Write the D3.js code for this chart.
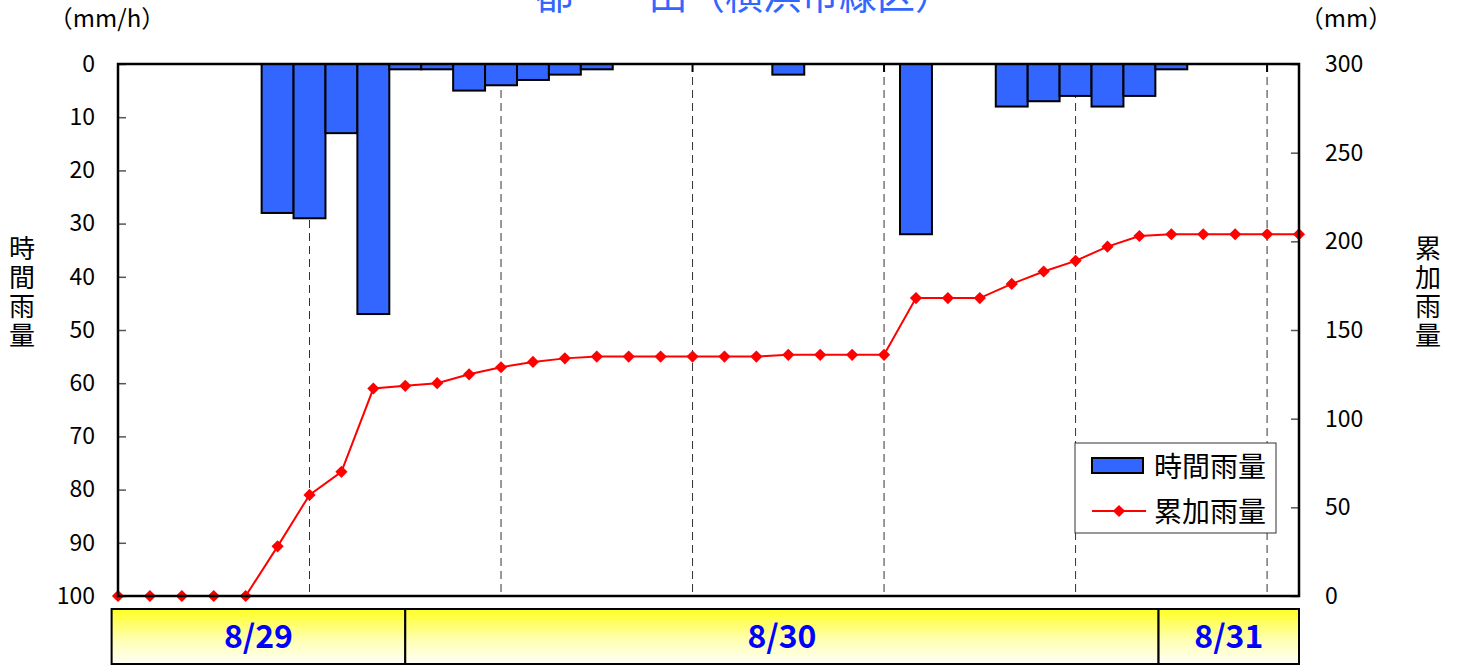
<!DOCTYPE html>
<html>
<head>
<meta charset="utf-8">
<script src="https://cdn.jsdelivr.net/npm/d3@7"></script>
<style>
  html, body { margin: 0; padding: 0; background: #fff; }
  svg { display: block; }
  text { font-family: "Noto Sans CJK JP", "Noto Sans", sans-serif; }
</style>
</head>
<body>
<svg id="chart"></svg>
<script>
'use strict';

// ── データ（1時間ごと） ─────────────────────────────────────────────
const hourly = [0, 0, 0, 0, 0, 28, 29, 13, 47, 1, 1, 5, 4, 3, 2, 1, 0, 0, 0, 0, 0, 2, 0, 0, 0, 32, 0, 0, 8, 7, 6, 8, 6, 1, 0, 0, 0, 0];
const cumulative = [0, 0, 0, 0, 0, 28, 57, 70, 117, 118.5, 120, 125, 129, 132, 134, 135, 135, 135, 135, 135, 135, 136, 136, 136, 136, 168, 168, 168, 176, 183, 189, 197, 203, 204, 204, 204, 204, 204];
const gridHours = [6, 12, 18, 24, 30, 36];
const days = ['8/29', '8/30', '8/31'];
const dayEdges = [-0.2, 9, 32.6, 37];
const leftTicks = [0, 10, 20, 30, 40, 50, 60, 70, 80, 90, 100];
const rightTicks = [0, 50, 100, 150, 200, 250, 300];

const W = 1457, H = 666;
const M = { left: 118, right: 1299, top: 64, bottom: 596 };

const BAR = '#3366ff';
const LINE = '#ff0000';

const svg = d3.select('#chart').attr('width', W).attr('height', H);

const x = d3.scaleLinear().domain([0, hourly.length - 1]).range([M.left, M.right]);
const yL = d3.scaleLinear().domain([0, 100]).range([M.top, M.bottom]);
const yR = d3.scaleLinear().domain([0, 300]).range([M.bottom, M.top]);
const step = x(1) - x(0);

// ── タイトル（上が切れている） ──────────────────────────────────────
svg.append('text')
  .attr('x', 744).attr('y', 9)
  .attr('text-anchor', 'middle')
  .attr('font-size', 38)
  .attr('fill', BAR)
  .text('都　　田（横浜市緑区）');

// ── 単位 ────────────────────────────────────────────────────────────
svg.append('text').attr('x', 107).attr('y', 27).attr('text-anchor', 'middle')
  .attr('font-size', 24).text('（mm/h）');
svg.append('text').attr('x', 1346).attr('y', 27).attr('text-anchor', 'middle')
  .attr('font-size', 24).text('（mm）');

// 縦書き軸タイトル
function vertical(label, cx) {
  svg.append('text')
    .attr('x', cx)
    .attr('y', 235)
    .attr('writing-mode', 'vertical-rl')
    .attr('font-size', 26)
    .attr('letter-spacing', 3)
    .text(label);
}
vertical('時間雨量', 22);
vertical('累加雨量', 1428);

// ── 日付の縦破線 ────────────────────────────────────────────────────
const grid = svg.append('g');
grid.selectAll('line.dash')
  .data(gridHours)
  .join('line')
  .attr('class', 'dash')
  .attr('x1', d => x(d)).attr('x2', d => x(d))
  .attr('y1', M.top).attr('y2', M.bottom)
  .attr('stroke', '#333')
  .attr('stroke-width', 1)
  .attr('stroke-dasharray', '8,5');
grid.selectAll('line.tick')
  .data(gridHours)
  .join('line')
  .attr('class', 'tick')
  .attr('x1', d => x(d)).attr('x2', d => x(d))
  .attr('y1', M.top).attr('y2', M.top + 8)
  .attr('stroke', '#000')
  .attr('stroke-width', 2);

// ── 時間雨量（棒、上から下へ） ──────────────────────────────────────
svg.append('g').selectAll('rect')
  .data(hourly.map((v, i) => ({ i, v })).filter(d => d.v > 0))
  .join('rect')
  .attr('x', d => x(d.i) - step / 2)
  .attr('y', yL(0))
  .attr('width', step)
  .attr('height', d => yL(d.v) - yL(0))
  .attr('fill', BAR)
  .attr('stroke', '#000')
  .attr('stroke-width', 2);

// ── 累加雨量（折れ線） ──────────────────────────────────────────────
const line = d3.line().x((d, i) => x(i)).y(d => yR(d));
svg.append('path')
  .datum(cumulative)
  .attr('d', line)
  .attr('fill', 'none')
  .attr('stroke', LINE)
  .attr('stroke-width', 2);

const diamond = d3.symbol().type(d3.symbolDiamond2).size(95);
svg.append('g').selectAll('path')
  .data(cumulative)
  .join('path')
  .attr('transform', (d, i) => `translate(${x(i)},${yR(d)})`)
  .attr('d', diamond)
  .attr('fill', LINE);

// ── 軸 ──────────────────────────────────────────────────────────────
const axL = svg.append('g')
  .attr('transform', `translate(${M.left},0)`)
  .call(d3.axisLeft(yL).tickValues(leftTicks).tickSizeInner(-8).tickSizeOuter(0).tickPadding(23));
const axR = svg.append('g')
  .attr('transform', `translate(${M.right},0)`)
  .call(d3.axisRight(yR).tickValues(rightTicks).tickSizeInner(-8).tickSizeOuter(0).tickPadding(26));
[axL, axR].forEach(a => {
  a.select('.domain').remove();
  a.selectAll('.tick line').attr('stroke', '#555').attr('stroke-width', 1.5);
  a.selectAll('.tick text')
    .attr('font-family', '"Noto Sans CJK JP", sans-serif')
    .attr('font-size', 23)
    .attr('fill', '#000');
});

// 枠
svg.append('rect')
  .attr('x', M.left).attr('y', M.top)
  .attr('width', M.right - M.left).attr('height', M.bottom - M.top)
  .attr('fill', 'none')
  .attr('stroke', '#000')
  .attr('stroke-width', 2.5);

// ── 凡例 ────────────────────────────────────────────────────────────
const lg = svg.append('g').attr('transform', 'translate(1075,443)');
lg.append('rect').attr('width', 201).attr('height', 90)
  .attr('fill', '#fff').attr('stroke', '#333').attr('stroke-width', 1);
lg.append('rect').attr('x', 17).attr('y', 15).attr('width', 51).attr('height', 15)
  .attr('fill', BAR).attr('stroke', '#000').attr('stroke-width', 2);
lg.append('text').attr('x', 79).attr('y', 34).attr('font-size', 28).text('時間雨量');
lg.append('line').attr('x1', 17).attr('x2', 71).attr('y1', 68).attr('y2', 68)
  .attr('stroke', LINE).attr('stroke-width', 2);
lg.append('path').attr('transform', 'translate(44,68)').attr('d', diamond).attr('fill', LINE);
lg.append('text').attr('x', 79).attr('y', 79).attr('font-size', 28).text('累加雨量');

// ── 日付帯 ──────────────────────────────────────────────────────────
const defs = svg.append('defs');
const grad = defs.append('linearGradient').attr('id', 'dayFill')
  .attr('x1', 0).attr('y1', 0).attr('x2', 0).attr('y2', 1);
grad.append('stop').attr('offset', '0%').attr('stop-color', '#ffff22');
grad.append('stop').attr('offset', '55%').attr('stop-color', '#ffffb0');
grad.append('stop').attr('offset', '100%').attr('stop-color', '#fffff8');

const band = svg.append('g').selectAll('g')
  .data(days.map((d, i) => ({ d, a: dayEdges[i], b: dayEdges[i + 1] })))
  .join('g');
band.append('rect')
  .attr('x', d => x(d.a)).attr('y', 609)
  .attr('width', d => x(d.b) - x(d.a)).attr('height', 55)
  .attr('fill', 'url(#dayFill)')
  .attr('stroke', '#000').attr('stroke-width', 2);
band.append('text')
  .attr('x', d => (x(d.a) + x(d.b)) / 2)
  .attr('y', 648)
  .attr('text-anchor', 'middle')
  .attr('font-family', '"DejaVu Sans Mono", monospace')
  .attr('font-weight', 700)
  .attr('font-size', 32)
  .attr('fill', '#0000ff')
  .text(d => d.d);
</script>
</body>
</html>
